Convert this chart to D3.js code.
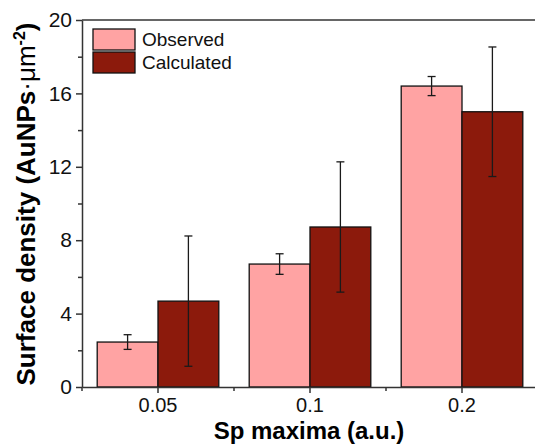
<!DOCTYPE html>
<html>
<head>
<meta charset="utf-8">
<script src="https://cdn.jsdelivr.net/npm/d3@7"></script>
<style>
  body { margin: 0; background: #fff; }
  svg { display: block; font-family: "Liberation Sans", Arial, sans-serif; }
</style>
</head>
<body>
<div id="chart"></div>
<script>
// data
const categories = ["0.05", "0.1", "0.2"];
const series = ["Observed", "Calculated"];
const observed = [2.45, 6.7, 16.4];
const observedErr = [0.4, 0.56, 0.52];
const calculated = [4.68, 8.72, 15.0];
const calculatedErr = [3.55, 3.55, 3.53];
const yTicks = [0, 4, 8, 12, 16, 20];
const yMinorTicks = [2, 6, 10, 14, 18];
const colors = ["#ffa3a3", "#8c1a0c"];

const width = 535, height = 445;
const margin = { top: 20, left: 82, bottom: 58 };
const plotRight = 538; // frame runs past the right edge

const svg = d3.select("#chart").append("svg")
    .attr("width", width)
    .attr("height", height);

const x = d3.scaleBand()
    .domain(categories)
    .range([margin.left, plotRight])
    .paddingInner(0.2)
    .paddingOuter(0.1);

const xSub = d3.scaleBand()
    .domain(series)
    .range([0, x.bandwidth()]);

const y = d3.scaleLinear()
    .domain([0, 20])
    .range([height - margin.bottom, margin.top]);

const rows = categories.map((c, i) => [
    { cat: c, s: "Observed", v: observed[i], e: observedErr[i] },
    { cat: c, s: "Calculated", v: calculated[i], e: calculatedErr[i] }
]).flat();

// bars
svg.append("g").selectAll("rect")
    .data(rows)
    .join("rect")
    .attr("x", d => x(d.cat) + xSub(d.s))
    .attr("y", d => y(d.v))
    .attr("width", xSub.bandwidth())
    .attr("height", d => y(0) - y(d.v))
    .attr("fill", d => colors[series.indexOf(d.s)])
    .attr("stroke", "#111")
    .attr("stroke-width", 1.3);

// error bars
const err = svg.append("g")
    .attr("stroke", "#1a1a1a")
    .attr("stroke-width", 1.3)
    .selectAll("g")
    .data(rows)
    .join("g")
    .attr("transform", d => "translate(" + (x(d.cat) + xSub(d.s) + xSub.bandwidth() / 2) + ",0)");

err.append("line")
    .attr("y1", d => y(d.v + d.e))
    .attr("y2", d => y(d.v - d.e));
err.append("line")
    .attr("x1", -4).attr("x2", 4)
    .attr("y1", d => y(d.v + d.e)).attr("y2", d => y(d.v + d.e));
err.append("line")
    .attr("x1", -4).attr("x2", 4)
    .attr("y1", d => y(d.v - d.e)).attr("y2", d => y(d.v - d.e));

// y axis
svg.append("g")
    .attr("transform", "translate(" + margin.left + ",0)")
    .call(d3.axisLeft(y).tickValues(yTicks).tickSize(6).tickPadding(4).tickSizeOuter(0));
svg.append("g")
    .attr("transform", "translate(" + margin.left + ",0)")
    .call(d3.axisLeft(y).tickValues(yMinorTicks).tickSize(4).tickFormat("").tickSizeOuter(0))
    .call(g => g.select(".domain").remove());

// x axis
svg.append("g")
    .attr("class", "x-axis")
    .attr("transform", "translate(0," + y(0) + ")")
    .call(d3.axisBottom(x).tickSize(6).tickPadding(5).tickSizeOuter(0));
const boundaries = categories.map(c => x(c) - x.step() * x.paddingInner() / 2)
    .concat([x(categories[categories.length - 1]) + x.bandwidth() + x.step() * x.paddingInner() / 2]);
svg.append("g")
    .attr("stroke", "#333")
    .attr("stroke-width", 1.5)
    .selectAll("line")
    .data(boundaries)
    .join("line")
    .attr("x1", d => d).attr("x2", d => d)
    .attr("y1", y(0)).attr("y2", y(0) + 4);

// top frame line
svg.append("line")
    .attr("x1", margin.left).attr("x2", plotRight)
    .attr("y1", margin.top).attr("y2", margin.top)
    .attr("stroke", "#333")
    .attr("stroke-width", 1.5);

svg.selectAll(".domain, .tick line")
    .attr("stroke", "#333")
    .attr("stroke-width", 1.5);
svg.selectAll(".tick text")
    .attr("fill", "#111")
    .style("font-size", "21px")
    .style("font-family", "'Liberation Sans', Arial, sans-serif");
svg.selectAll(".x-axis .tick text")
    .style("font-size", "20px");

// axis titles
svg.append("text")
    .attr("x", 309)
    .attr("y", 439)
    .attr("text-anchor", "middle")
    .style("font-size", "24px")
    .style("font-weight", "bold")
    .text("Sp maxima (a.u.)");

const yTitle = svg.append("text")
    .attr("transform", "translate(35," + 204 + ") rotate(-90)")
    .attr("text-anchor", "middle")
    .style("font-size", "26px")
    .style("font-weight", "bold");
yTitle.append("tspan").text("Surface density (AuNPs");
yTitle.append("tspan").style("font-weight", "normal").text("\u00b7\u03bcm");
yTitle.append("tspan").attr("dy", -10).style("font-size", "16px").text("-2");
yTitle.append("tspan").attr("dy", 10).text(")");

// legend
const legend = svg.append("g").selectAll("g")
    .data(series)
    .join("g")
    .attr("transform", (d, i) => "translate(93," + (29 + i * 23) + ")");
legend.append("rect")
    .attr("width", 42)
    .attr("height", 21)
    .attr("fill", (d, i) => colors[i])
    .attr("stroke", "#111")
    .attr("stroke-width", 1.3);
legend.append("text")
    .attr("x", 49)
    .attr("y", 17)
    .style("font-size", "19px")
    .attr("fill", "#111")
    .text(d => d);
</script>
</body>
</html>
